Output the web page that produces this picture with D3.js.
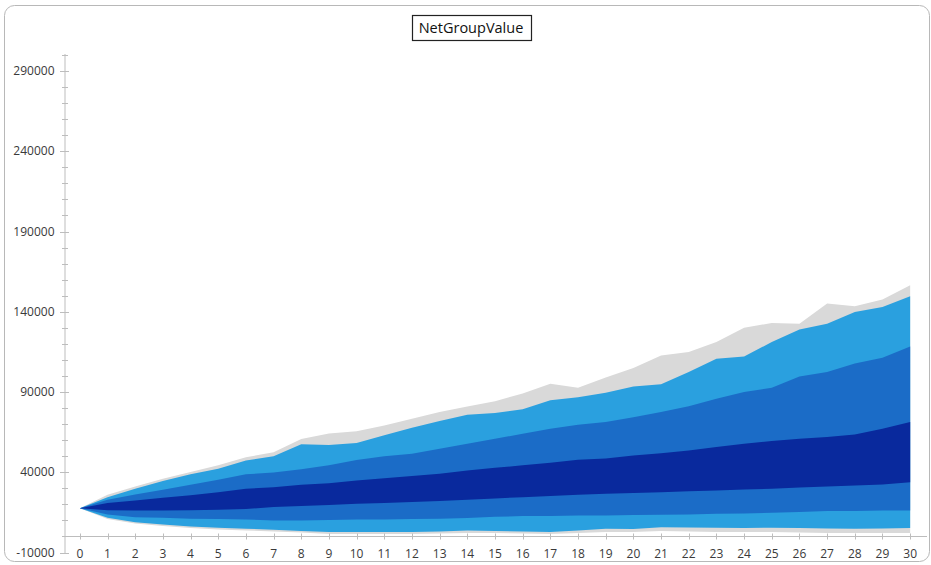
<!DOCTYPE html>
<html>
<head>
<meta charset="utf-8">
<script src="https://cdn.jsdelivr.net/npm/d3@7"></script>
<style>
  html, body { margin: 0; padding: 0; background: #fff; }
  svg { display: block; }
</style>
</head>
<body>
<svg id="chart" width="931" height="565"></svg>
<script>
// Projection periods
const periods = d3.range(0, 31);

// Percentile paths of the simulated net group value, one entry per period
const p01 = [17600, 10900, 8100, 6500, 5300, 4400, 3700, 3100, 2500, 1600, 1600,
             1600, 1600, 1900, 2200, 2200, 1900, 1600, 2200, 2800, 2800,
             3400, 3100, 2800, 2800, 2800, 2500, 2200, 2200, 2200, 2200];
const p05 = [17600, 11700, 8900, 7500, 6200, 5400, 4800, 4200, 3400, 2700, 2800,
             2800, 2700, 3100, 3700, 3400, 3100, 2700, 3700, 4800, 4700,
             5800, 5600, 5400, 5300, 5400, 5300, 5000, 4800, 5000, 5200];
const p10 = [17600, 13700, 12000, 11700, 11000, 10900, 10600, 10000, 10000, 10300, 10600,
             10600, 10900, 11000, 11500, 12200, 12700, 12800, 13100, 13100, 13400,
             13500, 13700, 14200, 14300, 14800, 15300, 15800, 15900, 16100, 16200];
const p25 = [17600, 16300, 16200, 16200, 16400, 16600, 17100, 18300, 18900, 19600, 20400,
             20900, 21400, 22100, 22900, 23700, 24500, 25200, 26000, 26600, 27100,
             27600, 28100, 28700, 29300, 29700, 30500, 31200, 31800, 32400, 33700];
const p75 = [17600, 20800, 22400, 24100, 25600, 27600, 29700, 30700, 32200, 33200, 34900,
             36300, 37600, 39100, 41100, 42800, 44300, 45900, 47800, 48600, 50500,
             51900, 53600, 55700, 57800, 59400, 60900, 61900, 63600, 67100, 71300];
const p90 = [17600, 22900, 26200, 29100, 32200, 35300, 38700, 39900, 41800, 44300, 47700,
             49900, 51600, 54700, 57800, 60900, 64000, 67100, 69600, 71300, 74200,
             77500, 81200, 85800, 90000, 92700, 99700, 102400, 107700, 111400, 118400];
const p95 = [17600, 24500, 29700, 34500, 38700, 42200, 47400, 49900, 57400, 57000, 58300,
             63000, 67800, 71900, 75900, 76900, 79200, 84800, 86800, 89500, 93500,
             94800, 102400, 110800, 112200, 121100, 128900, 132600, 139800, 143000, 149600];
const p99 = [17600, 26000, 31200, 36000, 40100, 44300, 49400, 52400, 60800, 64200, 65500,
             69200, 73400, 77500, 81000, 84300, 89000, 95200, 92700, 99100, 105000,
             112800, 114900, 121100, 130100, 133000, 132600, 145100, 143400, 147600, 156500];

// Labelled y ticks
const yTickLabels = [-10000, 40000, 90000, 140000, 190000, 240000, 290000];

const chartTitle = "NetGroupValue";

// Bands, drawn from the widest to the narrowest
const bands = [
  { lo: p01, hi: p99, color: "#d9d9d9" },
  { lo: p05, hi: p95, color: "#2aa0df" },
  { lo: p10, hi: p90, color: "#1b6cc7" },
  { lo: p25, hi: p75, color: "#09299d" }
];

const svg = d3.select("#chart");

// Outer frame
svg.append("rect")
  .attr("x", 4.5).attr("y", 5.5)
  .attr("width", 925).attr("height", 556)
  .attr("rx", 10).attr("ry", 10)
  .attr("fill", "none")
  .attr("stroke", "#b8b8b8")
  .attr("stroke-width", 1);

const x = d3.scaleLinear().domain([-0.5, 30.5]).range([66, 924]);
const y = d3.scaleLinear().domain([-10000, 300000]).range([552.5, 55]);

// Fan bands
const area = d3.area()
  .x((d, i) => x(periods[i]))
  .y0(d => y(d[0]))
  .y1(d => y(d[1]))
  .curve(d3.curveLinear);

bands.forEach(b => {
  const rows = periods.map((p, i) => [b.lo[i], b.hi[i]]);
  svg.append("path")
    .datum(rows)
    .attr("d", area)
    .attr("fill", b.color);
});

const axisColor = "#bdbdbd";
const labelColor = "#3a3a3a";
const font = "'Open Sans', 'Noto Sans', sans-serif";

// Y axis: minor ticks every 10000, labels every 50000
const yAxisG = svg.append("g").attr("transform", `translate(${x(-0.5) - 1.5},0)`);
yAxisG.append("line")
  .attr("x1", 0.5).attr("x2", 0.5)
  .attr("y1", y(300000) - 1).attr("y2", y(-10000) + 1)
  .attr("stroke", axisColor);
const minor = d3.range(-10000, 300001, 10000);
yAxisG.selectAll("line.minor")
  .data(minor.filter(v => !yTickLabels.includes(v)))
  .join("line")
  .attr("class", "minor")
  .attr("x1", -2.5).attr("x2", 3.5)
  .attr("y1", d => Math.round(y(d)) + 0.5)
  .attr("y2", d => Math.round(y(d)) + 0.5)
  .attr("stroke", axisColor);
yAxisG.selectAll("line.major")
  .data(yTickLabels)
  .join("line")
  .attr("class", "major")
  .attr("x1", -4.5).attr("x2", 4.5)
  .attr("y1", d => Math.round(y(d)) + 0.5)
  .attr("y2", d => Math.round(y(d)) + 0.5)
  .attr("stroke", axisColor);
yAxisG.selectAll("text")
  .data(yTickLabels)
  .join("text")
  .attr("x", -10)
  .attr("y", d => y(d))
  .attr("dy", "0.35em")
  .attr("text-anchor", "end")
  .attr("font-family", font)
  .attr("font-size", 12)
  .attr("fill", labelColor)
  .text(d => d);

// X axis crossing at zero
const xAxisG = svg.append("g").attr("transform", `translate(0,${Math.round(y(0)) + 0.5})`);
xAxisG.append("line")
  .attr("x1", x(-0.5) - 1).attr("x2", 927)
  .attr("y1", 0).attr("y2", 0)
  .attr("stroke", axisColor);
xAxisG.selectAll("line.tick")
  .data(periods)
  .join("line")
  .attr("class", "tick")
  .attr("x1", d => Math.round(x(d)) + 0.5)
  .attr("x2", d => Math.round(x(d)) + 0.5)
  .attr("y1", -3).attr("y2", 3)
  .attr("stroke", axisColor);
xAxisG.selectAll("text")
  .data(periods)
  .join("text")
  .attr("x", d => x(d))
  .attr("y", 17)
  .attr("dy", "0.35em")
  .attr("text-anchor", "middle")
  .attr("font-family", font)
  .attr("font-size", 12)
  .attr("fill", labelColor)
  .text(d => d);

// Title in a box
const titleG = svg.append("g");
const titleText = titleG.append("text")
  .attr("x", 471)
  .attr("y", 28)
  .attr("dy", "0.35em")
  .attr("text-anchor", "middle")
  .attr("font-family", font)
  .attr("font-size", 14.5)
  .attr("fill", "#111")
  .text(chartTitle);
const bb = titleText.node().getBBox();
titleG.insert("rect", "text")
  .attr("x", Math.round(bb.x - 7) + 0.5)
  .attr("y", 15.5)
  .attr("width", Math.round(bb.width + 14))
  .attr("height", 25)
  .attr("fill", "#fff")
  .attr("stroke", "#222")
  .attr("stroke-width", 1.2);
</script>
</body>
</html>
